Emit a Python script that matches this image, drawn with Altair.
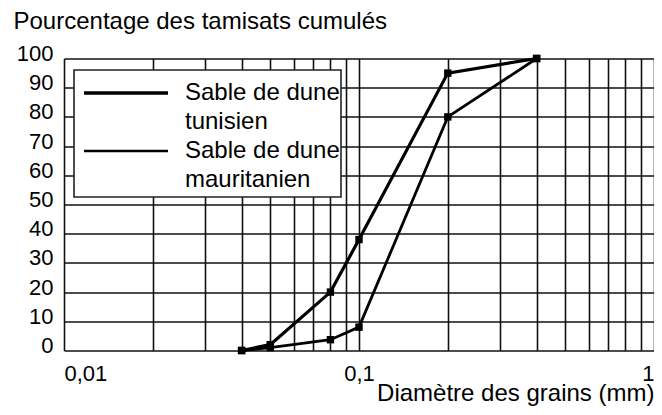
import altair as alt
import pandas as pd

# --- data ---
diam = [0.04, 0.05, 0.08, 0.1, 0.2, 0.4]
tunisien = [0, 2, 20, 38, 95, 100]
mauritanien = [0, 1, 3.7, 8, 80, 100]

x_ticks = [0.01, 0.02, 0.03, 0.04, 0.05, 0.06, 0.07, 0.08, 0.09,
           0.1, 0.2, 0.3, 0.4, 0.5, 0.6, 0.7, 0.8, 0.9, 1]
x_labels = {0.01: "0,01", 0.1: "0,1", 1: "1"}
y_ticks = [0, 10, 20, 30, 40, 50, 60, 70, 80, 90, 100]

legend_tun = "Sable de dune\ntunisien"
legend_mau = "Sable de dune\nmauritanien"

df = pd.DataFrame({
    "d": diam * 2,
    "p": tunisien + mauritanien,
    "s": ["tunisien"] * len(diam) + ["mauritanien"] * len(diam),
})

FONT = "Liberation Sans"
TXT = 24
NUM = 22
W, H = 590, 292

label_expr = " : ".join(
    f"datum.value == {k} ? '{v}'" for k, v in x_labels.items()
) + " : ''"

x_enc = alt.X(
    "d:Q",
    scale=alt.Scale(type="log", domain=[0.01, 1], nice=False),
    axis=alt.Axis(
        values=x_ticks, labelExpr=label_expr, grid=True, gridColor="#111",
        gridWidth=1.6, gridOpacity=1, domain=False, ticks=False, tickSize=0,
        labelFlush=True, labelOverlap=False, labelFont=FONT, labelFontSize=NUM,
        labelColor="#000", labelBaseline="alphabetic", labelPadding=30,
        title="Diamètre des grains (mm)", titleFont=FONT, titleFontSize=TXT,
        titleFontWeight="normal", titleColor="#000", titleAlign="right",
        titleAnchor="end", titleX=W, titleY=50, titleBaseline="alphabetic",
    ),
)
y_enc = alt.Y(
    "p:Q",
    scale=alt.Scale(domain=[0, 100], nice=False),
    axis=alt.Axis(
        values=y_ticks, tickCount=11, grid=True, gridColor="#111",
        gridWidth=1.6, gridOpacity=1, domain=False, ticks=False, tickSize=0,
        labelFont=FONT, labelFontSize=NUM, labelColor="#000",
        labelBaseline="alphabetic", labelOffset=2, labelPadding=11,
        labelOverlap=False,
        title="Pourcentage des tamisats cumulés", titleFont=FONT,
        titleFontSize=TXT, titleFontWeight="normal", titleColor="#000",
        titleAngle=0, titleAlign="left", titleBaseline="alphabetic",
        titleX=-51, titleY=-30.5,
    ),
)

base = alt.Chart(df).encode(x=x_enc, y=y_enc)

line_tun = base.transform_filter(alt.datum.s == "tunisien").mark_line(
    color="#000", strokeWidth=3.2
)
line_mau = base.transform_filter(alt.datum.s == "mauritanien").mark_line(
    color="#000", strokeWidth=2.8
)
pts = base.mark_point(
    shape="square", filled=True, color="#000", size=55, opacity=1
)

one = alt.Data(values=[{"k": 0}])
box = alt.Chart(one).mark_rect(
    fill="white", stroke="#222", strokeWidth=1.6
).encode(x=alt.value(10), x2=alt.value(277), y=alt.value(11.5), y2=alt.value(138.5))
sample_tun = alt.Chart(one).mark_rule(color="#000", strokeWidth=3.5).encode(
    x=alt.value(20), x2=alt.value(104), y=alt.value(34.5))
sample_mau = alt.Chart(one).mark_rule(color="#000", strokeWidth=2.5).encode(
    x=alt.value(20), x2=alt.value(104), y=alt.value(92.5))
text_tun = alt.Chart(one).mark_text(
    align="left", baseline="alphabetic", font=FONT, fontSize=TXT, color="#000",
    lineBreak="\n", lineHeight=28.5
).encode(x=alt.value(121), y=alt.value(41.5), text=alt.value(legend_tun))
text_mau = alt.Chart(one).mark_text(
    align="left", baseline="alphabetic", font=FONT, fontSize=TXT, color="#000",
    lineBreak="\n", lineHeight=29
).encode(x=alt.value(121), y=alt.value(99.5), text=alt.value(legend_mau))

chart = alt.layer(
    line_tun, line_mau, pts, box, sample_tun, sample_mau, text_tun, text_mau
).properties(
    width=W, height=H,
    autosize=alt.AutoSizeParams(type="none"),
    padding={"left": 56, "top": 50.5, "right": 0, "bottom": 56},
    background="white",
).configure_view(stroke=None)

chart.save("out.html", embed_options={"renderer": "svg", "actions": False})
